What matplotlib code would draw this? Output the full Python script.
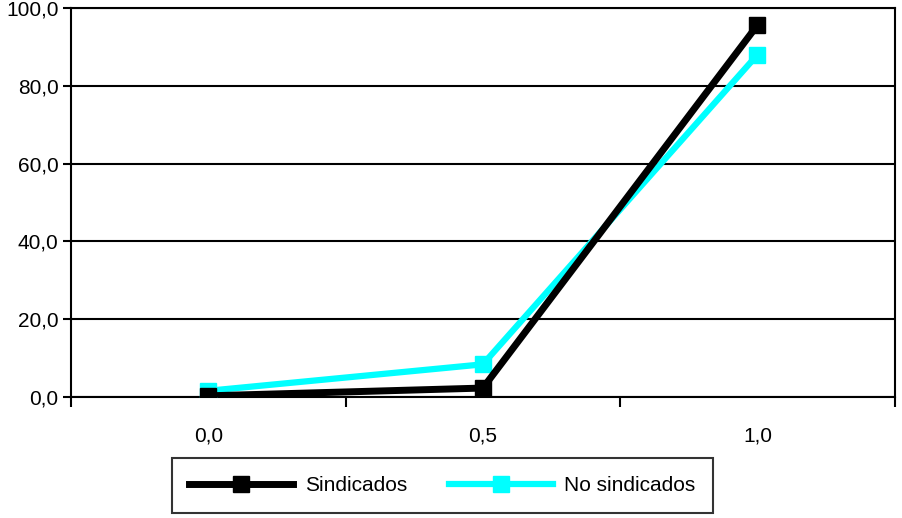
import matplotlib
matplotlib.use("Agg")
import matplotlib.pyplot as plt
from matplotlib.ticker import FixedLocator, NullFormatter, FixedFormatter

categories = ["0,0", "0,5", "1,0"]
sindicados = [0.3, 2.3, 95.6]
no_sindicados = [1.6, 8.4, 88.0]
yticks = [0, 20, 40, 60, 80, 100]
ytick_labels = ["0,0", "20,0", "40,0", "60,0", "80,0", "100,0"]

plt.rcParams['font.family'] = ['Liberation Sans', 'DejaVu Sans']

fig = plt.figure(figsize=(9.02, 5.18), dpi=100)
ax = fig.add_axes([0.0787, 0.2336, 0.9133, 0.751])

x = list(range(len(categories)))
ax.plot(x, no_sindicados, color="#00ffff", lw=4.5, marker="s", ms=12,
        mec="#00ffff", label="No sindicados", zorder=3)
ax.plot(x, sindicados, color="black", lw=5, marker="s", ms=12,
        mec="black", label="Sindicados", zorder=4)

ax.set_xlim(-0.5, len(categories) - 0.5)
ax.set_ylim(0, 100)

# category boundaries get tick marks, labels sit between them
ax.xaxis.set_major_locator(FixedLocator([i - 0.5 for i in range(len(categories) + 1)]))
ax.xaxis.set_major_formatter(NullFormatter())
ax.xaxis.set_minor_locator(FixedLocator(x))
ax.xaxis.set_minor_formatter(FixedFormatter(categories))
ax.tick_params(axis="x", which="major", direction="out", length=7, width=1.5, color="black")
ax.tick_params(axis="x", which="minor", length=0, pad=21, labelsize=15)

ax.set_yticks(yticks)
ax.set_yticklabels(ytick_labels)
ax.tick_params(axis="y", direction="out", length=6, width=1.5, pad=3, labelsize=15)

ax.grid(axis="y", color="black", lw=1.5)
ax.set_axisbelow(True)
for s in ["top", "left", "right", "bottom"]:
    ax.spines[s].set_linewidth(1.5)
    ax.spines[s].set_color("black")

handles, labels = ax.get_legend_handles_labels()
leg = fig.legend(handles[::-1], labels[::-1], loc="center", bbox_to_anchor=(0.4906, 0.0627),
                 ncol=2, frameon=True, fancybox=False, edgecolor="black", fontsize=15,
                 handlelength=5.0, handletextpad=0.55, columnspacing=2.0, borderpad=0.85)
leg.get_frame().set_linewidth(1.5)

fig.savefig("out.png", dpi=100)
